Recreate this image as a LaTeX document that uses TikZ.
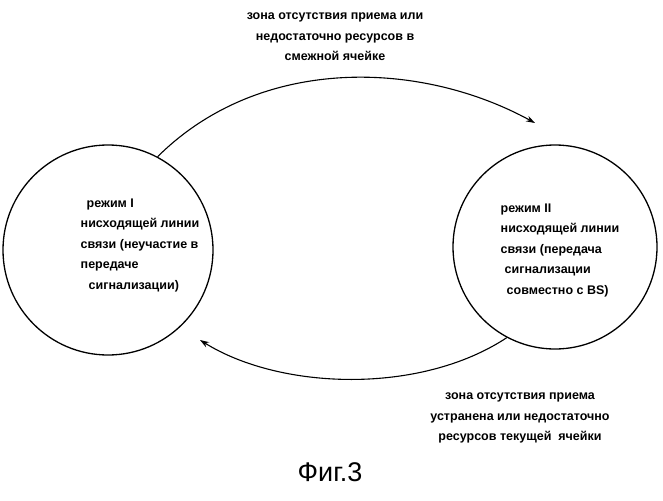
\documentclass[tikz,border=0pt]{standalone}
\usepackage{fontspec}
\setmainfont{Liberation Sans}
\usetikzlibrary{arrows.meta}
\begin{document}
\begin{tikzpicture}[x=1pt,y=-1pt,
  st/.style={circle,draw,line width=1.3pt,inner sep=0pt},
  lbl/.style={font=\bfseries\fontsize{12.5}{20.5}\selectfont,align=left},
  arr/.style={line width=1.1pt,-{Stealth[length=9pt,width=6pt]}}]
\useasboundingbox (0,0) rectangle (663,500);
\node[st,minimum size=210pt] (L) at (108,250) {};
\node[st,minimum size=204pt] (R) at (555,247) {};
\node[lbl] (lt) at (140,245) {\hspace*{6pt}режим I\\нисходящей линии\\связи (неучастие в\\передаче\\\hspace*{8pt}сигнализации)};
\node[lbl] (rt) at (560,250) {режим II\\нисходящей линии\\связи (передача\\\hspace*{4pt}сигнализации\\\hspace*{6pt}совместно с BS)};
\node[lbl,align=center] (top) at (335,37) {зона отсутствия приема или\\недостаточно ресурсов в\\смежной ячейке};
\node[lbl,align=center] (bot) at (520,418) {зона отсутствия приема\\устранена или недостаточно\\ресурсов текущей \ ячейки};
\coordinate (te) at (535,123);
\coordinate (be) at (200,340);
\draw[arr] (L.62) .. controls (260,55) and (420,60) .. (te);
\draw[arr] (R.-118) .. controls (420,395) and (280,390) .. (be);
\node[font=\fontsize{27}{30}\selectfont] (fig) at (330,472) {Фиг.3};
\end{tikzpicture}
\end{document}
